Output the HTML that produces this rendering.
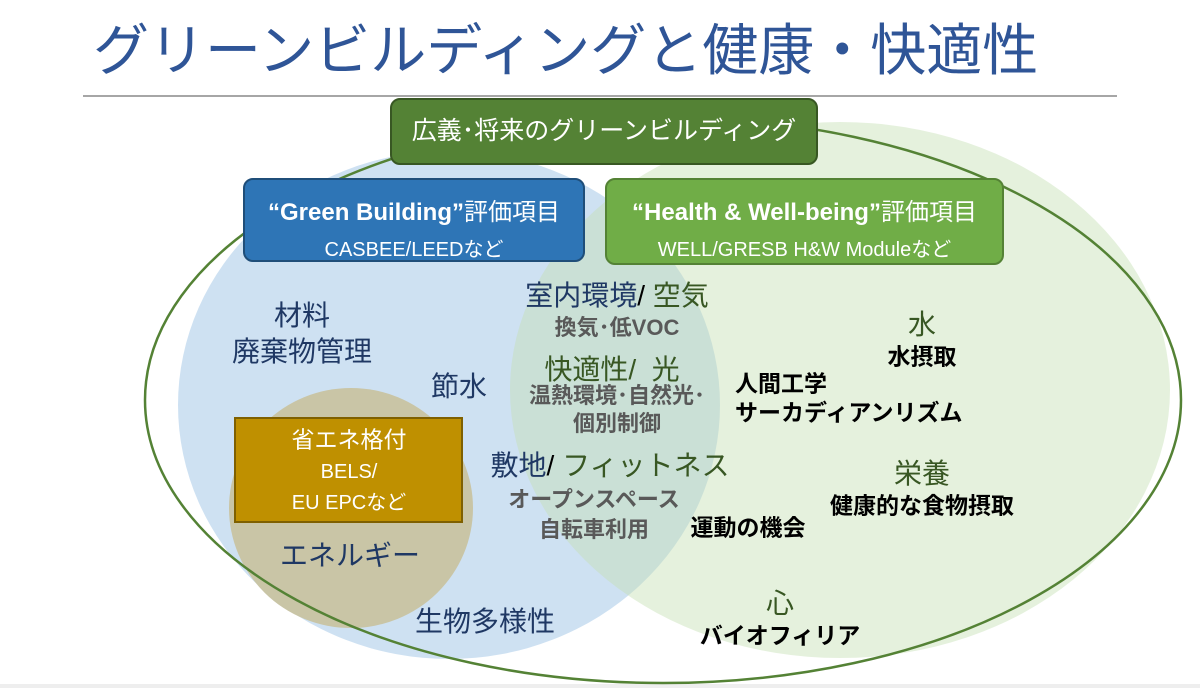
<!DOCTYPE html>
<html><head><meta charset="utf-8"><style>
body{margin:0;width:1200px;height:688px;overflow:hidden;background:#fff;font-family:"Liberation Sans","Noto Sans CJK JP",sans-serif;position:relative}
.t{position:absolute;transform:translate(-50%,-50%);white-space:nowrap;line-height:1}
.l{position:absolute;transform:translateY(-50%);white-space:nowrap;line-height:1}
.n{color:#1f3864;font-size:28px}
.g{color:#385723;font-size:28px}
.s{color:#595959;font-size:22px;font-weight:bold}
.b{color:#000;font-size:23px;font-weight:bold}
.box{position:absolute;border-radius:10px;color:#fff;text-align:center;box-sizing:border-box}
</style></head><body>
<div style="position:absolute;left:93px;top:6px;font-size:56px;color:#2f5597;white-space:nowrap">グリーンビルディングと健康・快適性</div>
<div style="position:absolute;left:83px;top:95px;width:1034px;height:2px;background:#a6a6a6"></div>
<div style="position:absolute;left:0;top:684px;width:1200px;height:4px;background:#eeeeee"></div>
<svg width="1200" height="688" style="position:absolute;left:0;top:0">
<ellipse cx="449" cy="405" rx="271" ry="254" fill="#bdd7ee" fill-opacity="0.75"/>
<ellipse cx="840" cy="390" rx="330" ry="268" fill="#c5e0b4" fill-opacity="0.45"/>
<ellipse cx="351" cy="508" rx="122" ry="120" fill="#c9c5a6"/>
<ellipse cx="663" cy="400" rx="518" ry="283" fill="none" stroke="#548235" stroke-width="2.5"/>
<rect x="235" y="418" width="227" height="104" fill="#bf9000" stroke="#7f6000" stroke-width="2"/>
</svg>
<div class="box" style="left:390px;top:98px;width:428px;height:67px;background:#548235;border:2px solid #385723;font-size:25px;line-height:63px">広義･将来のグリーンビルディング</div>
<div class="box" style="left:243px;top:178px;width:342px;height:84px;background:#2e75b6;border:2px solid #1f4e79;padding-top:12px"><div style="font-size:24px;font-weight:bold">“Green Building”<span style="font-weight:normal">評価項目</span></div><div style="font-size:20px;margin-top:6px">CASBEE/LEEDなど</div></div>
<div class="box" style="left:605px;top:178px;width:399px;height:87px;background:#70ad47;border:2px solid #548235;padding-top:12px"><div style="font-size:24px;font-weight:bold">“Health &amp; Well-being”<span style="font-weight:normal">評価項目</span></div><div style="font-size:20px;margin-top:6px">WELL/GRESB H&amp;W Moduleなど</div></div>
<div class="t n" style="left:302px;top:316px">材料</div>
<div class="t n" style="left:302px;top:352px">廃棄物管理</div>
<div class="t n" style="left:459px;top:387px">節水</div>
<div class="t n" style="left:617px;top:296px">室内環境<span style="color:#000">/</span> <span class="g">空気</span></div>
<div class="t s" style="left:617px;top:328px">換気･低VOC</div>
<div class="t g" style="left:612px;top:370px">快適性/&nbsp; 光</div>
<div class="t s" style="left:617px;top:396px">温熱環境･自然光･</div>
<div class="t s" style="left:617px;top:424px">個別制御</div>
<div class="t n" style="left:610px;top:466px">敷地<span style="color:#000">/</span> <span class="g">フィットネス</span></div>
<div class="t s" style="left:594px;top:500px">オープンスペース</div>
<div class="t s" style="left:594px;top:530px">自転車利用</div>
<div class="t b" style="left:748px;top:528px">運動の機会</div>
<div class="l b" style="left:735px;top:384px">人間工学</div>
<div class="l b" style="left:735px;top:413px">サーカディアンリズム</div>
<div class="t g" style="left:922px;top:325px">水</div>
<div class="t b" style="left:922px;top:357px">水摂取</div>
<div class="t g" style="left:922px;top:474px">栄養</div>
<div class="t b" style="left:922px;top:506px">健康的な食物摂取</div>
<div class="t g" style="left:780px;top:604px">心</div>
<div class="t b" style="left:780px;top:636px">バイオフィリア</div>
<div class="t n" style="left:350px;top:556px">エネルギー</div>
<div class="t n" style="left:485px;top:622px">生物多様性</div>
<div class="t" style="left:349px;top:440px;color:#fff;font-size:23px">省エネ格付</div>
<div class="t" style="left:349px;top:472px;color:#fff;font-size:20px">BELS/</div>
<div class="t" style="left:349px;top:503px;color:#fff;font-size:20px">EU EPCなど</div>
</body></html>
